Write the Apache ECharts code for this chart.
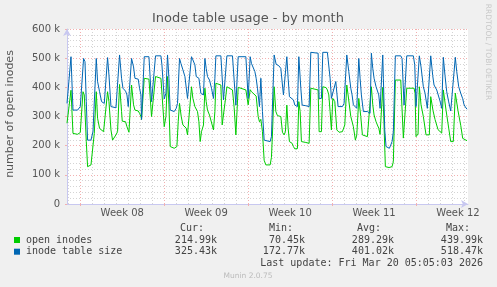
<!DOCTYPE html>
<html>
<head>
<meta charset="utf-8">
<script src="https://cdn.jsdelivr.net/npm/echarts@6/dist/echarts.min.js"></script>
<style>
  html, body { margin: 0; padding: 0; background: #f0f0f0; }
  #chart { width: 497px; height: 287px; }
</style>
</head>
<body>
<div id="chart"></div>
<script>
// time: hours since Mon 16 Feb 2026 00:00, values in thousands of inodes
const openInodes = [
  [-26.6, 277], [-24, 271], [-18.6, 390], [-14.6, 242], [-5.4, 239],
  [0, 245], [1.4, 250], [5.4, 385], [8, 374], [12, 214], [14.6, 128], [21.4, 134],
  [24.6, 139], [28, 242], [32, 385], [34.6, 294], [38.6, 259], [42.6, 254], [46.6, 248],
  [50.6, 254], [54.6, 385], [57.4, 351], [61.4, 254], [64.6, 219], [71.4, 237],
  [74.6, 248], [78.6, 410], [82.6, 317], [84, 284], [90.6, 282], [93.4, 265],
  [97.4, 246], [100, 250], [102.6, 408], [106.6, 340], [109.4, 322], [116, 319],
  [118.6, 311], [121.4, 300], [122.6, 290], [126.6, 290], [128, 431], [137.4, 428],
  [138.6, 425], [142.6, 300], [146.6, 300], [150.6, 437], [161.4, 431], [163.4, 425],
  [168, 265], [171.4, 300], [174.6, 437], [177.4, 340], [180, 197], [184, 193],
  [188, 191], [190.6, 185], [193.4, 197], [196, 282], [198.6, 345], [202, 300],
  [205.4, 271], [209.4, 265], [212, 260], [214.6, 237], [218.6, 237], [222.6, 402],
  [225.4, 362], [229.4, 334], [234.6, 317], [237.4, 282], [240, 214], [242.6, 248],
  [246.6, 271], [249.4, 397], [252, 351], [254.6, 322], [258.6, 305], [262.6, 300],
  [266.6, 254], [269.4, 317], [271.4, 414], [281.4, 408], [284, 271], [286.6, 271],
  [290.6, 360], [293.4, 402], [304.6, 391], [308, 330], [311.4, 237], [316, 400],
  [331.4, 391], [336, 340], [340, 392], [342.6, 385], [346.6, 380], [352, 370],
  [356, 300], [358.6, 282], [361.4, 290], [364.6, 248], [368, 150], [371.4, 134],
  [380, 134], [382.6, 160], [384.6, 240], [388, 402], [391.4, 317], [394.6, 303],
  [401.4, 300], [404.6, 246], [408, 237], [410.6, 248], [413.4, 339], [416, 260],
  [418.6, 214], [424, 208], [426.6, 197], [429.4, 189], [434.6, 190], [437.4, 351],
  [440, 317], [442.6, 214], [451.4, 211], [458, 208], [461.4, 397], [476, 391],
  [478, 248], [482.6, 248], [485.4, 402], [492, 399], [494.6, 391], [497.4, 374],
  [500, 317], [502.6, 254], [505.4, 362], [509.4, 351], [513.4, 254], [518, 246],
  [524.6, 248], [529.4, 271], [533.4, 408], [536, 374], [541.4, 300], [546.6, 265],
  [550.6, 219], [553.4, 237], [557.4, 362], [561.4, 300], [564.6, 237], [568, 234],
  [574.6, 231], [578.6, 225], [582.6, 402], [585.4, 340], [588, 305], [592, 282],
  [594.6, 271], [597.4, 260], [600, 239], [602.6, 242], [605.4, 400], [607.4, 300],
  [610.6, 128], [618, 125], [624, 128], [626.6, 145], [630.6, 425], [641.4, 425],
  [644, 420], [646.6, 226], [650.6, 226], [653.4, 397], [668, 397], [670, 380],
  [672, 231], [676, 240], [678.6, 402], [682, 340], [686.6, 300], [692, 237],
  [698.6, 237], [701.4, 368], [706, 320], [710, 290], [716, 255], [723.4, 243],
  [726.6, 391], [732, 322], [737.4, 260], [741.4, 214], [746.6, 214], [750.6, 380],
  [756, 320], [761.4, 270], [765.4, 225], [774, 217]
];

const tableSize = [
  [-26.6, 345], [-24, 345], [-18.6, 505], [-14.6, 322], [-5.4, 322],
  [0, 334], [1.4, 340], [6.6, 499], [9.4, 488], [12, 351], [14.6, 219], [21.4, 219],
  [25.4, 248], [28, 254], [32, 499], [34.6, 420], [38.6, 385], [42.6, 351], [48, 345],
  [54.6, 502], [57.4, 442], [61.4, 334], [71.4, 330], [74.6, 328], [78.6, 511],
  [82.6, 431], [85.4, 397], [90.6, 387], [93.4, 374], [96, 334], [100, 340],
  [102.6, 499], [106.6, 470], [109.4, 431], [116, 428], [118.6, 397], [121.4, 374],
  [122.6, 290], [126.6, 290], [128, 505], [137.4, 505], [138.6, 500], [142.6, 351],
  [146.6, 350], [150.6, 508], [161.4, 508], [163.4, 477], [168, 360], [171.4, 380],
  [174.6, 511], [177.4, 431], [178.6, 374], [180, 322], [182.6, 317], [188, 317],
  [192, 328], [194.6, 345], [198.6, 499], [201.4, 482], [205.4, 460], [209.4, 437],
  [212, 431], [214.6, 362], [218.6, 362], [222.6, 505], [225.4, 494], [229.4, 477],
  [232, 437], [237.4, 431], [241.4, 379], [246.6, 374], [249.4, 499], [252, 465],
  [254.6, 437], [258.6, 425], [262.6, 397], [266.6, 362], [269.4, 431], [271.4, 508],
  [281.4, 508], [282.6, 505], [286.6, 357], [293.4, 508], [304.6, 508], [311.4, 339],
  [316, 505], [331.4, 505], [336, 362], [340, 505], [342.6, 482], [346.6, 477],
  [349.4, 454], [352, 431], [354.6, 397], [358.6, 334], [361.4, 431], [364.6, 317],
  [368, 219], [371.4, 214], [380, 214], [382.6, 231], [388, 511], [392, 479],
  [397.4, 474], [401.4, 465], [404.6, 408], [406.6, 374], [409.4, 380], [413.4, 505],
  [416, 431], [418.6, 368], [422.6, 362], [426.6, 357], [429.4, 339], [434.6, 334],
  [437.4, 505], [441.4, 397], [444, 339], [451.4, 337], [458, 334], [461.4, 520],
  [476, 517], [478, 362], [482.6, 362], [485.4, 520], [494.6, 520], [497.4, 517],
  [500, 431], [502.6, 362], [506.6, 362], [511.4, 420], [516, 334], [524.6, 334],
  [528, 345], [533.4, 511], [537.4, 454], [541.4, 397], [544, 374], [546.6, 340],
  [550.6, 334], [553.4, 328], [557.4, 499], [560, 431], [562.6, 374], [566.6, 317],
  [574.6, 317], [580, 311], [582.6, 517], [585.4, 465], [588, 431], [592, 402],
  [594.6, 397], [597.4, 374], [600, 328], [602.6, 334], [605.4, 511], [606.6, 431],
  [609.4, 254], [612, 197], [618.6, 191], [621.4, 202], [624, 214], [626.6, 248],
  [630.6, 508], [641.4, 508], [644, 499], [648, 339], [650.6, 345], [653.4, 508],
  [666.6, 508], [669.4, 477], [672, 334], [678.6, 508], [682, 470], [686.6, 402],
  [690, 380], [694.6, 328], [698.6, 334], [701.4, 508], [705.4, 440], [708, 408],
  [713.4, 391], [716.6, 385], [720, 353], [723.4, 328], [726.6, 503], [730, 440],
  [733.4, 385], [737.4, 350], [741.4, 319], [745.4, 323], [750.6, 503], [753.4, 455],
  [757.4, 402], [761.4, 380], [765.4, 361], [768, 341], [770.6, 333], [774, 325]
];

const weekStarts = [0, 168, 336, 504, 672];
const weekMids = [84, 252, 420, 588, 756];
const weekLabels = ['Week 08', 'Week 09', 'Week 10', 'Week 11', 'Week 12'];

const seriesNames = ['open inodes', 'inode table size'];
const seriesColors = ['#00cc00', '#0066b3'];
const curValues = ['214.99k', '325.43k'];
const minValues = ['70.45k', '172.77k'];
const avgValues = ['289.29k', '401.02k'];
const maxValues = ['439.99k', '518.47k'];

const X_MIN = -26.6;
const X_MAX = 776;

// daily grid lines, skipping the week boundaries (drawn red by the second axis)
const dayLines = [];
for (let h = -24; h <= X_MAX; h += 24) {
  if (weekStarts.indexOf(h) < 0) dayLines.push(h);
}

const SANS = 'DejaVu Sans';
const MONO = 'DejaVu Sans Mono';
const MAJOR = '#f2b0b0';
const MINOR = '#d4d4d4';
const AXIS = '#c8c8f0';

function txt(x, y, text, opts) {
  opts = opts || {};
  return {
    type: 'text',
    x: x,
    y: y,
    rotation: opts.rotation || 0,
    silent: true,
    style: {
      text: text,
      fill: opts.color || '#444',
      font: opts.font || ('10px ' + MONO),
      textAlign: opts.align || 'left',
      textVerticalAlign: 'middle'
    }
  };
}

const graphic = [
  txt(248, 19, 'Inode table usage - by month', { align: 'center', font: '13px ' + SANS, color: '#555' }),
  txt(10, 114, 'number of open inodes', { align: 'center', font: '11px ' + SANS, color: '#555', rotation: Math.PI / 2 }),
  txt(488, 52, 'RRDTOOL / TOBI OETIKER', { align: 'center', font: '7.5px ' + SANS, color: '#c8c8c8', rotation: -Math.PI / 2 }),
  txt(204, 228, 'Cur:', { align: 'right' }),
  txt(293, 228, 'Min:', { align: 'right' }),
  txt(381, 228, 'Avg:', { align: 'right' }),
  txt(470, 228, 'Max:', { align: 'right' }),
  txt(483, 263.5, 'Last update: Fri Mar 20 05:05:03 2026', { align: 'right' }),
  txt(248, 276, 'Munin 2.0.75', { align: 'center', font: '7.5px ' + SANS, color: '#bbbbbb' })
];

seriesNames.forEach(function (name, i) {
  const y = 240 + i * 11.7;
  graphic.push({
    type: 'rect',
    shape: { x: 14, y: y - 3, width: 6, height: 6 },
    style: { fill: seriesColors[i] },
    silent: true
  });
  graphic.push(txt(26, y, name));
  graphic.push(txt(217, y, curValues[i], { align: 'right' }));
  graphic.push(txt(305, y, minValues[i], { align: 'right' }));
  graphic.push(txt(394, y, avgValues[i], { align: 'right' }));
  graphic.push(txt(483, y, maxValues[i], { align: 'right' }));
});

const chart = echarts.init(document.getElementById('chart'), null, { renderer: 'canvas' });

chart.setOption({
  backgroundColor: '#f0f0f0',
  animation: false,
  grid: {
    left: 67, top: 29, width: 401, height: 175,
    show: true, backgroundColor: '#ffffff', borderWidth: 0
  },
  xAxis: [
    {
      type: 'value', min: X_MIN, max: X_MAX, position: 'bottom',
      axisLine: { show: true, onZero: false, lineStyle: { color: AXIS }, symbol: ['none', 'arrow'], symbolSize: [6, 7] },
      axisTick: { show: false, customValues: dayLines },
      axisLabel: { show: false },
      splitLine: { show: true, lineStyle: { color: MINOR, type: [1, 2], width: 1 } }
    },
    {
      type: 'value', min: X_MIN, max: X_MAX, position: 'bottom',
      axisLine: { show: false, onZero: false },
      axisTick: { show: true, customValues: weekStarts, length: 2, lineStyle: { color: MAJOR } },
      axisLabel: {
        show: true, customValues: weekMids, margin: 4,
        color: '#555', fontFamily: SANS, fontSize: 10,
        formatter: function (v) { return weekLabels[weekMids.indexOf(v)] || ''; }
      },
      splitLine: { show: true, lineStyle: { color: MAJOR, type: [1, 2], width: 1 } }
    }
  ],
  yAxis: {
    type: 'value', min: 0, max: 600, interval: 100,
    axisLine: { show: true, onZero: false, lineStyle: { color: AXIS }, symbol: ['none', 'arrow'], symbolSize: [6, 7] },
    axisTick: { show: true, length: 2, lineStyle: { color: MAJOR } },
    axisLabel: {
      margin: 7, color: '#555', fontFamily: SANS, fontSize: 10,
      formatter: function (v) { return v === 0 ? '0' : v + ' k'; }
    },
    splitLine: { show: true, lineStyle: { color: MAJOR, type: [1, 2], width: 1 } },
    minorTick: { show: false, splitNumber: 5 },
    minorSplitLine: { show: true, lineStyle: { color: MINOR, type: [1, 2], width: 1 } }
  },
  series: [
    {
      name: seriesNames[0], type: 'line', data: openInodes,
      showSymbol: false, symbol: 'none', z: 3,
      lineStyle: { color: seriesColors[0], width: 1 }
    },
    {
      name: seriesNames[1], type: 'line', data: tableSize,
      showSymbol: false, symbol: 'none', z: 4,
      lineStyle: { color: seriesColors[1], width: 1 }
    }
  ],
  graphic: graphic
});
</script>
</body>
</html>
